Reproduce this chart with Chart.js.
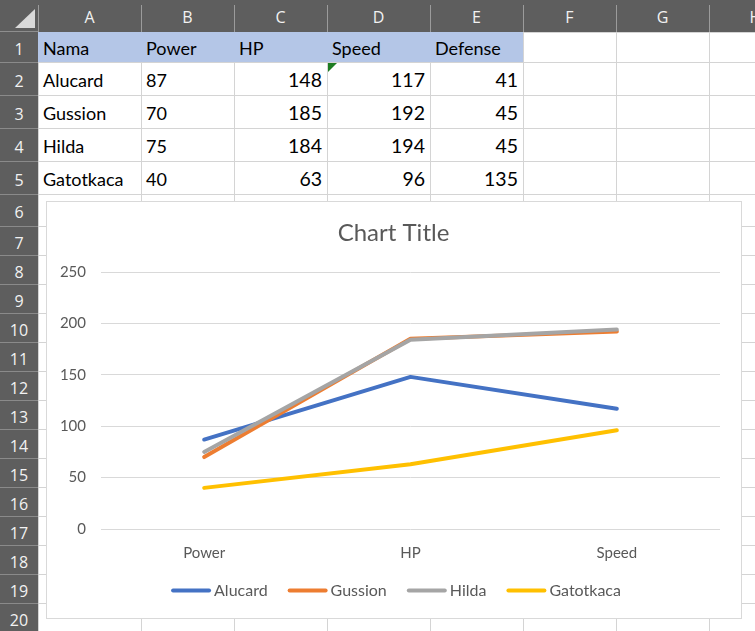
<!DOCTYPE html>
<html>
<head>
<meta charset="utf-8">
<script src="https://cdn.jsdelivr.net/npm/chart.js@4.4.1/dist/chart.umd.min.js"></script>
<style>
  html, body { margin: 0; padding: 0; background: #ffffff; width: 755px; height: 631px; overflow: hidden; }
  #sheet { position: absolute; left: 0; top: 0; width: 755px; height: 631px; overflow: hidden; font-family: Lato, "Open Sans", sans-serif; }
  .abs { position: absolute; }
  .hdrtxt { position: absolute; display: flex; align-items: center; justify-content: center; color: #f2f2f2; font-family: "Open Sans", sans-serif; font-size: 16px; line-height: 1; }
  .cell { position: absolute; display: flex; align-items: flex-end; line-height: 1; color: #000; white-space: nowrap; box-sizing: border-box; }
  #chartBox { position: absolute; left: 46px; top: 201px; width: 694px; height: 416px; border: 1px solid #d9d9d9; background: #ffffff; }
  #chartWrap { position: absolute; left: 0; top: 0; width: 694px; height: 416px; }
</style>
</head>
<body>
<div id="sheet"></div>
<div id="chartBox"><div id="chartWrap"><canvas id="chart"></canvas></div></div>
<script>
// ---------------- data ----------------
const tableHeaders = ['Nama', 'Power', 'HP', 'Speed', 'Defense'];
const heroNames = ['Alucard', 'Gussion', 'Hilda', 'Gatotkaca'];
const powerValues = [87, 70, 75, 40];
const hpValues = [148, 185, 184, 63];
const speedValues = [117, 192, 194, 96];
const defenseValues = [41, 45, 45, 135];
const categories = ['Power', 'HP', 'Speed'];
const yTickValues = [0, 50, 100, 150, 200, 250];
const chartTitle = 'Chart Title';
const columnLetters = ['A', 'B', 'C', 'D', 'E', 'F', 'G', 'H'];
const seriesColors = ['#4472C4', '#ED7D31', '#A5A5A5', '#FFC000'];

// ---------------- sheet layout ----------------
const colEdges = [38, 141, 234, 327, 430, 523, 616, 709, 802];
const rowEdges = [32, 62, 95, 128, 161, 194, 226, 255, 284, 313, 342, 371, 400, 429, 458, 487, 516, 545, 574, 603, 632];
const sheet = document.getElementById('sheet');
function box(l, t, w, h, bg, cls) {
  const d = document.createElement('div');
  d.className = cls || 'abs';
  d.style.left = l + 'px'; d.style.top = t + 'px';
  d.style.width = w + 'px'; d.style.height = h + 'px';
  if (bg) d.style.background = bg;
  sheet.appendChild(d);
  return d;
}
// gridlines
for (let i = 0; i < colEdges.length; i++) box(colEdges[i], 32, 1, 631 - 32, '#d4d4d4');
for (let j = 0; j < rowEdges.length; j++) box(38, rowEdges[j], 755 - 38, 1, '#d4d4d4');
// header bars
box(0, 0, 755, 32, '#5e5e5e');
box(0, 0, 38, 631, '#5e5e5e');
// header separators
box(38, 5, 1, 27, '#9b9b9b');
for (let i = 1; i < colEdges.length; i++) box(colEdges[i], 5, 1, 27, '#9b9b9b');
box(0, 31, 38, 1, '#8e8e8e');
for (let j = 1; j < rowEdges.length; j++) box(0, rowEdges[j], 38, 1, '#8a8a8a');
// corner triangle
const tri = document.createElementNS('http://www.w3.org/2000/svg', 'svg');
tri.setAttribute('width', '38'); tri.setAttribute('height', '32');
tri.style.position = 'absolute'; tri.style.left = '0px'; tri.style.top = '0px';
tri.innerHTML = '<polygon points="15,28 35,28 35,9" fill="#d9d9d9"/>';
sheet.appendChild(tri);
// column letters
for (let i = 0; i < columnLetters.length; i++) {
  const d = box(colEdges[i], 2, colEdges[i + 1] - colEdges[i], 30, null, 'hdrtxt');
  d.textContent = columnLetters[i];
}
// row numbers
for (let j = 0; j < rowEdges.length - 1; j++) {
  const d = box(0, rowEdges[j] + 2, 38, rowEdges[j + 1] - rowEdges[j], null, 'hdrtxt');
  d.textContent = String(j + 1);
}
// header fill
box(38, 32, 523 - 38, 30, '#B4C6E7');
// cells
function cell(col, row, text, align, size) {
  const l = colEdges[col], r = colEdges[col + 1];
  const t = rowEdges[row], b = rowEdges[row + 1];
  const d = box(l + 1, t, r - l - 1, b - t, null, 'cell');
  d.style.fontSize = size + 'px';
  d.style.justifyContent = align === 'right' ? 'flex-end' : 'flex-start';
  d.style.paddingLeft = '4px';
  d.style.paddingRight = '5px';
  d.style.paddingBottom = (row === 0 ? 5 : 6) + 'px';
  d.textContent = text;
}
for (let i = 0; i < tableHeaders.length; i++) cell(i, 0, tableHeaders[i], 'left', 18);
for (let k = 0; k < heroNames.length; k++) {
  cell(0, k + 1, heroNames[k], 'left', 18);
  cell(1, k + 1, String(powerValues[k]), 'left', 18);
  cell(2, k + 1, String(hpValues[k]), 'right', 19.5);
  cell(3, k + 1, String(speedValues[k]), 'right', 19.5);
  cell(4, k + 1, String(defenseValues[k]), 'right', 19.5);
}
// green error triangle at D2
const gt = document.createElementNS('http://www.w3.org/2000/svg', 'svg');
gt.setAttribute('width', '12'); gt.setAttribute('height', '12');
gt.style.position = 'absolute'; gt.style.left = '328px'; gt.style.top = '63px';
gt.innerHTML = '<polygon points="0,0 9,0 0,9" fill="#1e7d22"/>';
sheet.appendChild(gt);

// ---------------- chart ----------------
const seriesValues = heroNames.map((n, k) => [powerValues[k], hpValues[k], speedValues[k]]);
const textColor = '#595959';
const fontFamily = 'Lato, "Open Sans", sans-serif';

const datasets = heroNames.map((name, k) => ({
  label: name,
  data: seriesValues[k],
  borderColor: seriesColors[k],
  backgroundColor: seriesColors[k],
  borderWidth: 4,
  borderCapStyle: 'round',
  borderJoinStyle: 'round',
  pointRadius: 0,
  pointHoverRadius: 0,
  tension: 0,
  fill: false,
  order: heroNames.length - k
}));

// shift title horizontally after layout so it is centred like the original
const titleShift = {
  id: 'titleShift',
  afterLayout(chart) {
    if (chart.titleBlock) { chart.titleBlock.left += 10; chart.titleBlock.right += 10; }
  }
};

// Excel-like legend: 40px line, small gap, then label
const excelLegend = {
  id: 'excelLegend',
  afterDraw(chart) {
    const ctx = chart.ctx;
    const lineLen = 40, gap = 3, itemGap = 20;
    ctx.save();
    ctx.font = '16px ' + fontFamily;
    const items = chart.data.datasets.map(ds => ({ text: ds.label, color: ds.borderColor, w: ctx.measureText(ds.label).width }));
    const total = items.reduce((s, it) => s + lineLen + gap + it.w, 0) + itemGap * (items.length - 1);
    let x = chart.width / 2 + 2 - total / 2;
    const y = chart.chartArea.bottom + 61.5;
    ctx.textBaseline = 'middle';
    ctx.textAlign = 'left';
    items.forEach(it => {
      ctx.beginPath();
      ctx.strokeStyle = it.color;
      ctx.lineWidth = 4;
      ctx.lineCap = 'round';
      ctx.moveTo(x + 2, y);
      ctx.lineTo(x + lineLen - 2, y);
      ctx.stroke();
      ctx.fillStyle = textColor;
      ctx.fillText(it.text, x + lineLen + gap, y + 0.5);
      x += lineLen + gap + it.w + itemGap;
    });
    ctx.restore();
  }
};

new Chart(document.getElementById('chart'), {
  type: 'line',
  data: { labels: categories, datasets: datasets },
  plugins: [titleShift, excelLegend],
  options: {
    responsive: true,
    maintainAspectRatio: false,
    animation: false,
    events: [],
    layout: { padding: { left: 0, right: 21, top: 0, bottom: 51 } },
    plugins: {
      tooltip: { enabled: false },
      legend: { display: false },
      title: {
        display: true,
        text: chartTitle,
        color: textColor,
        font: { family: fontFamily, size: 24, weight: 'normal', lineHeight: 1.2 },
        padding: { top: 17, bottom: 24.2 }
      }
    },
    scales: {
      x: {
        type: 'category',
        offset: true,
        grid: { display: false, drawTicks: false },
        border: { display: false },
        ticks: { color: textColor, font: { family: fontFamily, size: 15 }, padding: 15, maxRotation: 0 },
        afterFit: (s) => { s.height = 38; }
      },
      y: {
        min: 0,
        max: 250,
        afterBuildTicks: (s) => { s.ticks = yTickValues.map(v => ({ value: v })); },
        grid: { color: '#d9d9d9', lineWidth: 1, drawTicks: false },
        border: { display: false },
        ticks: { color: textColor, font: { family: fontFamily, size: 15 }, padding: 15 },
        afterFit: (s) => { s.width = 54; }
      }
    }
  }
});
</script>
</body>
</html>
